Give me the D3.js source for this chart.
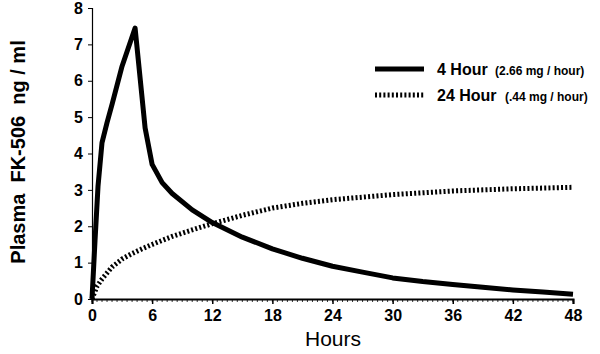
<!DOCTYPE html>
<html>
<head>
<meta charset="utf-8">
<script src="https://cdn.jsdelivr.net/npm/d3@7"></script>
<style>
  body { margin: 0; background: #fff; }
  svg { font-family: "Liberation Sans", Arial, sans-serif; }
</style>
</head>
<body>
<svg id="chart" width="600" height="354"></svg>
<script>
// 4 hour infusion (2.66 mg / hour)
const hours4 = [0, 0.3, 0.6, 1, 1.5, 2, 3, 4.3, 5.3, 6, 7, 8, 10, 12, 15, 18, 21, 24, 27, 30, 33, 36, 39, 42, 45, 48];
const conc4  = [0, 1.6, 3.1, 4.3, 4.85, 5.35, 6.4, 7.45, 4.7, 3.7, 3.2, 2.9, 2.45, 2.1, 1.7, 1.38, 1.12, 0.9, 0.74, 0.58, 0.48, 0.4, 0.32, 0.25, 0.19, 0.13];
// 24 hour infusion (.44 mg / hour)
const hours24 = [0, 0.5, 1, 2, 3, 4, 5, 6, 8, 10, 12, 15, 18, 21, 24, 30, 36, 42, 48];
const conc24  = [0, 0.35, 0.55, 0.88, 1.1, 1.25, 1.38, 1.5, 1.72, 1.9, 2.07, 2.3, 2.5, 2.63, 2.73, 2.87, 2.97, 3.03, 3.07];

const xTicks = [0, 6, 12, 18, 24, 30, 36, 42, 48];
const yTicks = [0, 1, 2, 3, 4, 5, 6, 7, 8];

const svg = d3.select("#chart");
const x = d3.scaleLinear().domain([0, 48]).range([92, 573]);
const y = d3.scaleLinear().domain([0, 8]).range([299, 8]);

// y axis
const yAxis = svg.append("g").attr("transform", "translate(92,0)")
    .call(d3.axisLeft(y).tickValues(yTicks).tickSize(4).tickPadding(5));
yAxis.select(".domain").attr("stroke-width", 1.2);
yAxis.selectAll("text").attr("font-size", 16).attr("font-weight", "bold").attr("fill", "#000");

// x axis: minor ticks every half hour, then major ticks
const minor = d3.range(0, 48.01, 0.5);
svg.append("g").selectAll("line").data(minor).join("line")
    .attr("x1", d => x(d)).attr("x2", d => x(d))
    .attr("y1", 299).attr("y2", 302)
    .attr("stroke", "#000").attr("stroke-width", 0.8);
const xAxis = svg.append("g").attr("transform", "translate(0,299)")
    .call(d3.axisBottom(x).tickValues(xTicks).tickSize(5).tickPadding(6));
xAxis.select(".domain").attr("stroke-width", 2);
xAxis.selectAll(".tick line").attr("stroke-width", 1.5);
xAxis.selectAll("text").attr("font-size", 16).attr("font-weight", "bold").attr("fill", "#000");

// axis titles
svg.append("text").attr("x", 333).attr("y", 346).attr("text-anchor", "middle")
    .attr("font-size", 21).text("Hours");
svg.append("text").attr("transform", "translate(25,152) rotate(-90)")
    .attr("text-anchor", "middle").attr("font-size", 20).attr("font-weight", "bold")
    .attr("xml:space", "preserve").text("Plasma  FK-506  ng / ml");

// curves
const line = d3.line().x(d => x(d[0])).y(d => y(d[1]));
svg.append("path").datum(d3.zip(hours24, conc24)).attr("d", line)
    .attr("fill", "none").attr("stroke", "#000").attr("stroke-width", 5)
    .attr("stroke-dasharray", "2,2.2");
svg.append("path").datum(d3.zip(hours4, conc4)).attr("d", line)
    .attr("fill", "none").attr("stroke", "#000").attr("stroke-width", 5)
    .attr("stroke-linejoin", "round");

// legend
const legend = [
  { name: "4 Hour", dose: "(2.66 mg / hour)", dash: null, y: 69, dx: 495 },
  { name: "24 Hour", dose: "(.44 mg / hour)", dash: "2,2.2", y: 95, dx: 505 }
];
const lg = svg.append("g").selectAll("g").data(legend).join("g");
lg.append("line").attr("x1", 375).attr("x2", 424).attr("y1", d => d.y).attr("y2", d => d.y)
    .attr("stroke", "#000").attr("stroke-width", 5).attr("stroke-dasharray", d => d.dash);
lg.append("text").attr("x", 437).attr("y", d => d.y + 6).attr("font-size", 16)
    .attr("font-weight", "bold").text(d => d.name);
lg.append("text").attr("x", d => d.dx).attr("y", d => d.y + 6).attr("font-size", 12)
    .attr("font-weight", "bold").text(d => d.dose);
</script>
</body>
</html>
